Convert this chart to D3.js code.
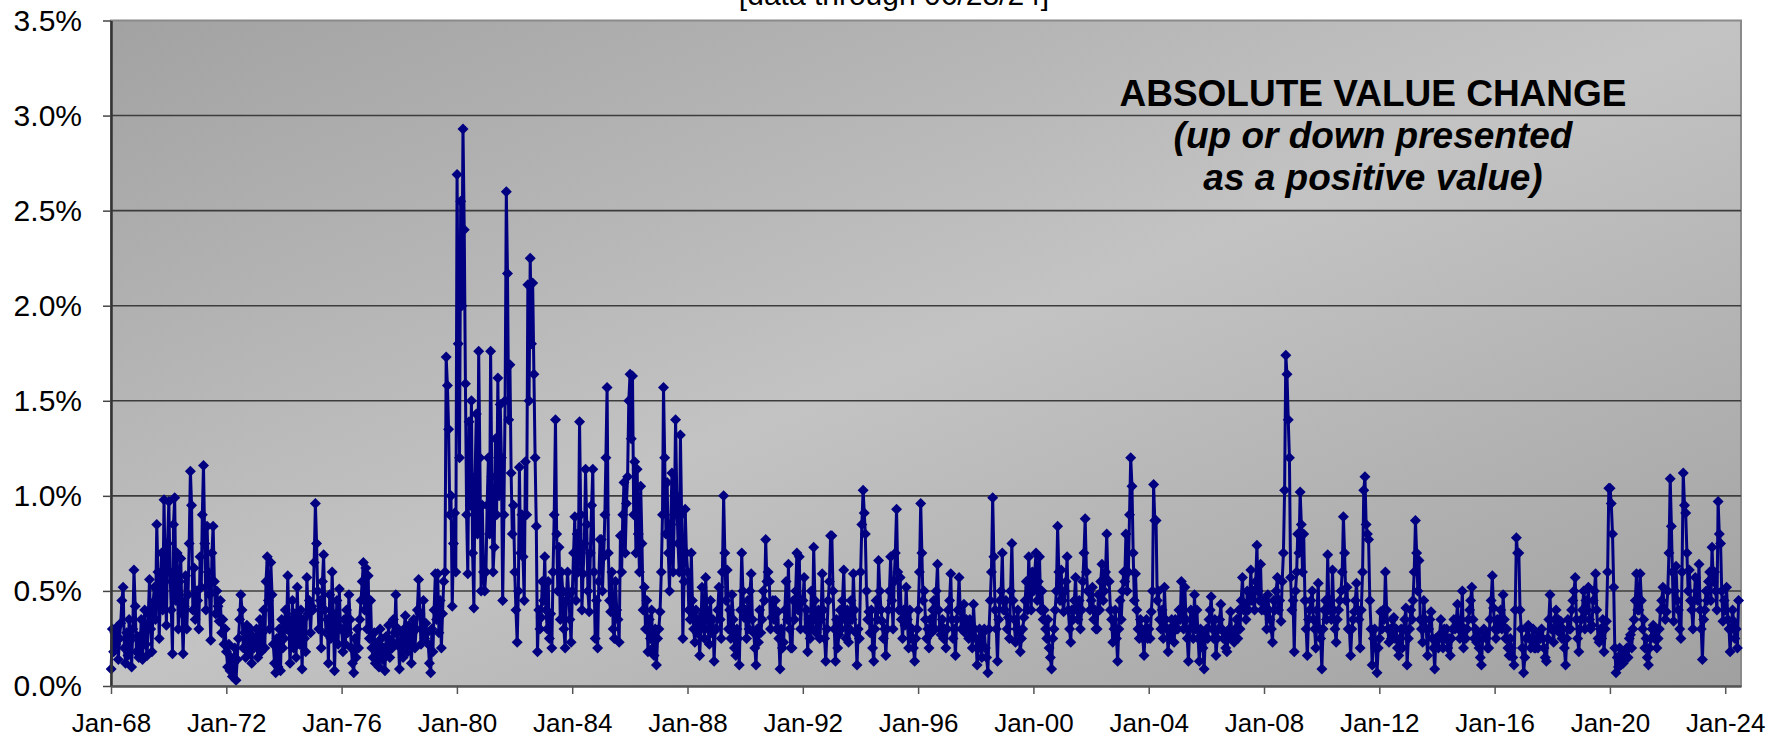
<!DOCTYPE html>
<html>
<head>
<meta charset="utf-8">
<script src="https://cdn.jsdelivr.net/npm/d3@7"></script>
<style>
  html, body { margin: 0; padding: 0; background: #fff; }
  svg { display: block; font-family: "Liberation Sans", Arial, sans-serif; }
</style>
</head>
<body>
<div id="viz"></div>
<script>
const absChange1960s = [
  9,30,18,28,22,31,14,25,33,45,52,20,12,28,16,35,24,10,30,61,42,18,26,15,   // 1968
  20,35,14,28,40,22,16,38,56,30,18,44,52,35,85,60,25,48,70,40,98,55,32,75   // 1969
];
const absChange1970s = [
  97,60,40,17,85,99,45,70,30,55,67,38,17,42,58,30,48,75,113,95,40,62,35,50,
  45,30,68,52,90,116,75,40,84,60,48,24,70,84,55,38,50,42,34,45,28,35,22,30,
  18,10,22,8,15,5,12,20,3,14,25,35,48,40,20,28,15,32,24,18,30,12,26,20,
  22,30,15,25,35,18,28,40,20,55,68,45,30,65,48,22,12,7,25,10,30,8,35,20,
  25,40,30,58,35,12,28,45,20,38,15,52,30,22,40,9,35,25,18,57,38,45,28,42,
  40,65,96,75,50,30,45,20,55,69,40,28,35,12,48,25,60,38,8,30,45,22,51,30,
  30,18,35,22,40,28,48,35,20,12,7,25,15,30,20,35,45,55,65,40,62,30,58,25,
  45,20,15,28,12,22,18,10,30,25,14,20,8,26,18,32,15,24,20,35,28,48,22,30,
  9,20,28,15,30,37,22,18,32,25,12,28,35,20,30,40,56,38,22,30,45,25,33,28,
  22,12,7,30,18,40,59,35,59,28,45,20,38,55,60,173,158,135,90,100,42,75,91,60
];
const absChange1980s = [
  269,180,120,255,200,293,240,159,90,59,139,95,150,70,41,110,143,80,176,120,50,95,60,50,
  60,95,120,80,176,110,60,73,130,90,162,100,148,120,45,90,150,260,217,140,169,112,80,95,
  60,40,23,50,115,70,90,68,45,118,90,211,150,225,180,212,164,120,84,18,40,30,36,55,
  45,68,40,30,55,25,38,20,60,90,140,80,50,73,35,60,50,30,20,45,60,48,35,23,
  50,70,89,45,80,60,139,90,40,59,75,114,85,50,39,70,95,114,60,25,45,20,55,77,
  77,50,68,90,120,157,70,45,39,60,30,25,55,40,35,23,79,60,90,107,70,96,110,150,
  164,130,163,90,118,70,114,80,60,105,75,40,52,30,45,18,35,25,40,20,16,30,11,25,
  30,39,60,90,157,120,80,107,70,50,85,112,60,90,140,100,75,60,132,90,25,55,93,70,
  60,40,35,70,45,30,23,40,28,35,16,30,52,38,25,57,40,30,22,45,28,35,13,30,
  30,40,52,35,25,60,100,70,45,61,30,40,25,48,35,20,16,30,25,11,40,70,50,36
];
const absChange1990s = [
  40,25,45,30,50,59,35,28,20,11,30,23,40,28,35,50,45,77,55,60,55,30,36,45,
  35,45,30,39,25,9,30,20,23,40,55,35,64,30,20,20,45,35,50,70,40,68,30,45,
  45,57,30,40,18,35,25,50,30,73,45,28,34,40,25,35,59,40,25,13,30,45,55,79,
  79,50,30,13,35,20,27,40,30,45,61,35,25,40,23,30,45,35,59,40,28,11,30,25,
  60,85,103,91,80,50,35,39,28,40,20,13,30,45,35,66,50,40,34,25,30,16,30,40,
  50,68,45,30,55,70,93,60,40,57,35,25,40,32,52,35,20,40,25,30,20,13,25,30,
  40,60,96,70,45,50,35,25,30,20,35,28,40,45,30,50,64,40,30,27,35,25,30,20,
  30,40,45,59,35,25,30,16,35,40,57,40,30,35,43,28,35,30,25,35,30,20,43,30,
  25,11,20,30,23,15,28,30,20,15,7,30,45,60,99,68,40,30,13,35,45,50,70,40,
  40,45,30,36,25,50,75,45,35,23,30,40,28,18,25,30,36,45,55,40,68,52,40,60
];
const absChange2000s = [
  50,60,70,45,55,68,40,50,35,40,30,25,35,20,15,9,25,30,40,50,84,60,45,61,
  45,39,50,55,68,40,30,23,40,35,45,57,40,35,45,30,40,55,70,88,60,50,50,40,
  45,52,35,40,30,30,48,40,55,64,45,50,60,80,55,55,40,35,23,30,40,25,13,30,
  45,35,50,60,55,80,50,60,90,120,105,70,45,59,40,30,25,35,30,25,16,30,35,25,
  30,25,39,50,106,87,87,45,50,35,30,40,25,52,35,30,18,30,25,35,30,23,35,30,
  30,40,35,55,40,30,52,35,25,13,30,40,35,25,48,30,40,25,13,30,28,20,9,25,
  30,25,35,40,47,30,25,35,16,25,30,35,43,30,25,28,20,18,25,30,39,28,25,23,
  30,35,25,40,30,45,57,40,43,35,50,40,45,61,45,50,40,55,74,50,45,64,40,45,
  40,45,30,48,40,35,30,23,45,40,50,57,40,45,34,55,70,103,174,164,140,120,57,40,
  45,18,50,60,80,70,102,85,60,80,45,30,16,35,40,45,50,35,30,20,40,54,30,25
];
const absChange2010s = [
  9,30,40,45,35,69,40,45,35,61,40,30,23,35,40,45,50,60,89,70,45,52,30,30,
  16,30,35,39,45,54,40,35,20,40,60,103,110,85,80,77,45,30,11,25,30,20,7,20,
  25,39,30,40,35,60,40,30,23,30,25,35,36,25,30,20,16,25,30,20,30,35,41,11,
  25,30,40,35,45,60,87,70,50,66,35,30,23,45,35,30,16,30,35,39,25,20,9,25,
  25,20,27,35,25,20,30,25,30,20,25,16,25,30,35,30,35,43,30,25,35,50,20,30,
  25,30,35,40,45,52,35,25,30,23,28,20,15,11,25,30,28,25,20,20,35,45,58,41,
  30,25,35,30,35,40,30,48,35,25,30,20,16,25,20,15,11,40,78,70,70,40,30,20,
  7,15,25,30,32,25,20,25,30,20,20,25,20,28,25,30,25,20,15,13,25,35,48,30,
  30,23,35,40,30,35,28,34,25,30,20,11,25,35,30,30,40,45,50,57,35,25,18,30,
  35,40,50,30,45,40,52,35,30,32,45,50,59,40,25,23,30,25,35,18,30,34,60,104
];
const absChange2020s = [
  104,96,80,52,20,7,15,10,20,11,15,12,18,16,20,15,25,27,20,30,35,45,59,40,
  40,59,45,30,35,20,25,15,11,20,25,30,32,25,30,20,25,30,40,45,52,40,35,39,
  50,70,109,84,60,34,50,63,45,40,30,25,60,112,95,91,70,50,61,45,40,30,45,57,
  50,45,64,40,30,14,35,40,50,45,55,60,45,73,55,60,50,40,97,80,75,50,34,45,
  40,52,35,30,18,30,40,34,25,30,20,45   // through June 2024
];

const firstYear = 1968;
const yTicks = [0, 0.5, 1, 1.5, 2, 2.5, 3, 3.5];
const xTickYears = [1968, 1972, 1976, 1980, 1984, 1988, 1992, 1996, 2000, 2004, 2008, 2012, 2016, 2020, 2024];
const subtitle = "[data through 06/28/24]";
const noteLines = ["ABSOLUTE VALUE CHANGE", "(up or down presented", "as a positive value)"];

const width = 1788, height = 741;
const plot = { left: 111, right: 1741, top: 20.5, bottom: 686 };

// two readings per month: the 3rd and the 18th
const values = [].concat(absChange1960s, absChange1970s, absChange1980s,
    absChange1990s, absChange2000s, absChange2010s, absChange2020s);
const series = values.map((v, k) => ({
    date: new Date(firstYear + Math.floor(k / 24), Math.floor((k % 24) / 2), (k % 2) ? 18 : 3),
    value: v / 100
}));

const x = d3.scaleTime()
    .domain([new Date(1968, 0, 1), new Date(2024, 6, 19)])
    .range([plot.left, plot.right]);
const y = d3.scaleLinear()
    .domain([0, 3.5])
    .range([plot.bottom, plot.top]);

const svg = d3.select("#viz").append("svg")
    .attr("width", width)
    .attr("height", height);

// diagonal grey gradient behind the plot
const grad = svg.append("defs").append("linearGradient")
    .attr("id", "plotBg")
    .attr("x1", 0).attr("y1", 0)
    .attr("x2", 1).attr("y2", 1);
grad.append("stop").attr("offset", 0).attr("stop-color", "#a2a2a2");
grad.append("stop").attr("offset", 0.5).attr("stop-color", "#c3c3c3");
grad.append("stop").attr("offset", 1).attr("stop-color", "#a0a0a0");

svg.append("rect")
    .attr("x", plot.left)
    .attr("y", plot.top)
    .attr("width", plot.right - plot.left)
    .attr("height", plot.bottom - plot.top)
    .attr("fill", "url(#plotBg)")
    .attr("stroke", "#8a8a8a")
    .attr("stroke-width", 2);

// horizontal gridlines
svg.append("g")
    .selectAll("line")
    .data(yTicks.filter(t => t > 0 && t < 3.5))
    .enter()
    .append("line")
    .attr("x1", plot.left)
    .attr("x2", plot.right)
    .attr("y1", d => y(d))
    .attr("y2", d => y(d))
    .attr("stroke", "#3c3c3c")
    .attr("stroke-width", 1.6);

// annotation inside the plot
svg.append("g")
    .selectAll("text")
    .data(noteLines)
    .enter()
    .append("text")
    .attr("x", 1373)
    .attr("y", (d, i) => [106, 148, 190][i])
    .attr("text-anchor", "middle")
    .attr("font-size", 37)
    .attr("font-weight", "bold")
    .attr("font-style", (d, i) => i === 0 ? "normal" : "italic")
    .attr("fill", "#000")
    .text(d => d);

// the series
const line = d3.line()
    .x(d => x(d.date))
    .y(d => y(d.value));

svg.append("path")
    .datum(series)
    .attr("d", line)
    .attr("fill", "none")
    .attr("stroke", "#000080")
    .attr("stroke-width", 3)
    .attr("stroke-linejoin", "round");

svg.append("g")
    .selectAll("path")
    .data(series)
    .enter()
    .append("path")
    .attr("transform", d => `translate(${x(d.date)},${y(d.value)})`)
    .attr("d", "M0,-5.5L5.5,0L0,5.5L-5.5,0Z")
    .attr("fill", "#000080");

// y axis
const yAxis = svg.append("g")
    .attr("transform", `translate(${plot.left},0)`)
    .call(d3.axisLeft(y)
        .tickValues(yTicks)
        .tickSize(8)
        .tickSizeOuter(0)
        .tickPadding(21)
        .tickFormat(d => d.toFixed(1) + "%"));
yAxis.select(".domain").attr("stroke", "#333").attr("stroke-width", 2.5);
yAxis.selectAll(".tick line").attr("stroke", "#444").attr("stroke-width", 1.5);
yAxis.selectAll(".tick text")
    .attr("font-size", 30)
    .attr("font-family", "Liberation Sans, Arial, sans-serif")
    .attr("fill", "#000");

// x axis
const xAxis = svg.append("g")
    .attr("transform", `translate(0,${plot.bottom})`)
    .call(d3.axisBottom(x)
        .tickValues(xTickYears.map(yr => new Date(yr, 0, 1)))
        .tickSize(8)
        .tickSizeOuter(0)
        .tickPadding(20)
        .tickFormat(d3.timeFormat("%b-%y")));
xAxis.select(".domain").attr("stroke", "#555").attr("stroke-width", 2.5);
xAxis.selectAll(".tick line").attr("stroke", "#555").attr("stroke-width", 1.5);
xAxis.selectAll(".tick text")
    .attr("font-size", 26)
    .attr("font-family", "Liberation Sans, Arial, sans-serif")
    .attr("fill", "#000");

// subtitle, cut off by the top edge as in the original
svg.append("text")
    .attr("x", 894)
    .attr("y", 5)
    .attr("text-anchor", "middle")
    .attr("font-size", 30)
    .attr("fill", "#000")
    .text(subtitle);
</script>
</body>
</html>
